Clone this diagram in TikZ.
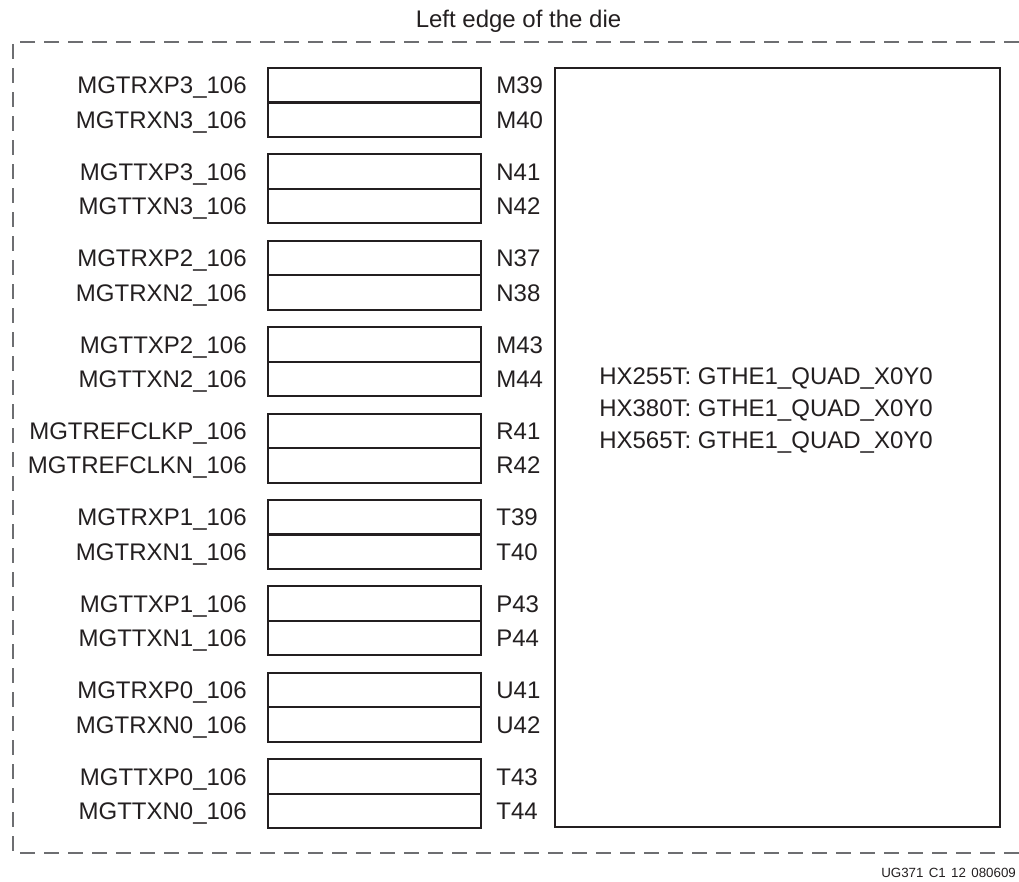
\documentclass[tikz,border=0pt]{standalone}
\usepackage{fontspec}
\setmainfont{Liberation Sans}
\usetikzlibrary{positioning}

\definecolor{inkdark}{HTML}{231F20}
\definecolor{edgegray}{HTML}{6D6E71}

\tikzset{
	pinbox/.style={draw=inkdark, line width=1.6pt, minimum width=159.75pt, minimum height=25.875pt, inner sep=0pt},
	signame/.style={inner sep=0pt, text height=12.9pt, text depth=0pt, text=inkdark, font=\fontsize{18}{22}\selectfont},
	dieedge/.style={edgegray, line width=1.25pt, dash pattern=on 11.25pt off 6.75pt},
}

\begin{document}
\begin{tikzpicture}[x=0.75pt, y=-0.75pt]
				% Page frame
				\useasboundingbox (0,0) rectangle (1019,881);

				% Edge of the die
				\node[signame] (title) at (518.5,19) {Left edge of the die};
				\draw[dieedge] (1019,42) -| (13,853) -- (1019,853);

				% Pin boxes, signal names on the left, balls on the right
				\foreach \sig/\ball [count=\i from 0] in {MGTRXP3/M39, MGTRXN3/M40, MGTTXP3/N41, MGTTXN3/N42,
						MGTRXP2/N37, MGTRXN2/N38, MGTTXP2/M43, MGTTXN2/M44,
						MGTREFCLKP/R41, MGTREFCLKN/R42, MGTRXP1/T39, MGTRXN1/T40,
						MGTTXP1/P43, MGTTXN1/P44, MGTRXP0/U41, MGTRXN0/U42,
						MGTTXP0/T43, MGTTXN0/T44} {
					\pgfmathsetmacro{\ypos}{85.25 + 86.4*int(\i/2) + 34.5*mod(\i,2)}
					\node[pinbox] (pin\i) at (374.5,\ypos) {};
					\node[signame, left=15pt of pin\i] (pin\i-name) {\sig\_106};
					\node[signame, right=10.5pt of pin\i] (pin\i-ball) {\ball};
				}

				% GTH quad
				\node[draw=inkdark, line width=1.7pt, minimum width=333.75pt, minimum height=569.25pt] (quad) at (777.5,447.5) {};
				\node[align=left, anchor=west, inner sep=0pt, text=inkdark, font=\fontsize{18}{24}\selectfont] (quadname) at (599,410)
					{HX255T: GTHE1\_QUAD\_X0Y0\\HX380T: GTHE1\_QUAD\_X0Y0\\HX565T: GTHE1\_QUAD\_X0Y0};

				% Figure number
				\node[anchor=base west, inner sep=0pt, text=inkdark, font=\fontsize{10}{12}\selectfont] (figid) at (881,877) {UG371\hspace{0.4em}C1\hspace{0.4em}12\hspace{0.4em}080609};
\end{tikzpicture}
\end{document}
